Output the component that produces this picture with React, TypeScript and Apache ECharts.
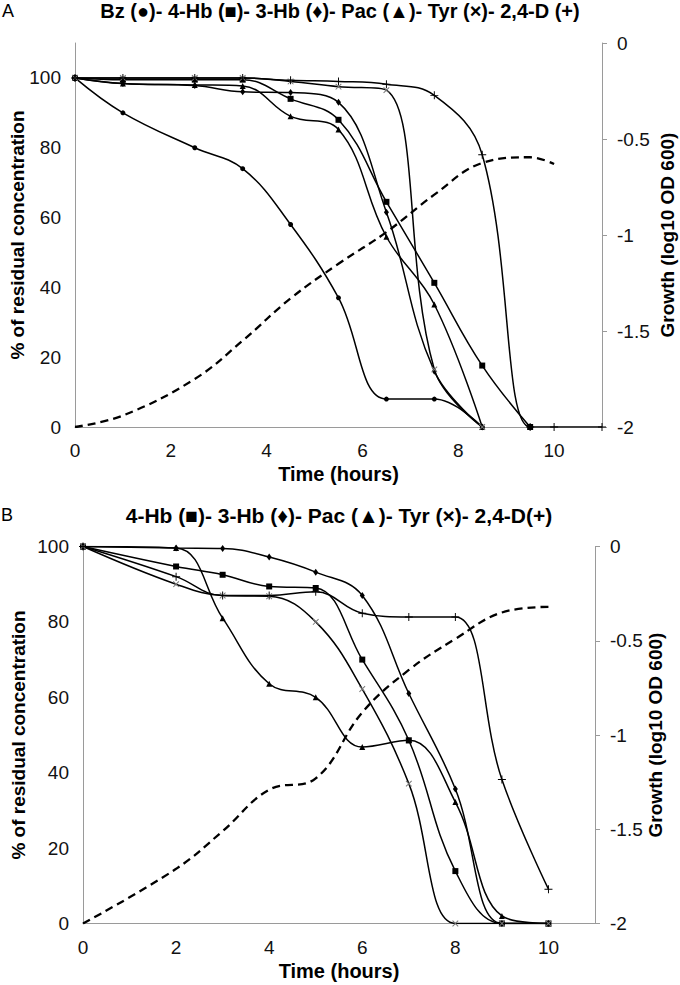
import React, { useEffect, useRef } from "react";
import * as echarts from "echarts";

// ---------- Panel A data ----------
const timeA = [0, 1, 2.5, 3.5, 4.5, 5.5, 6.5, 7.5, 8.5, 9.5, 10, 11];
const bzA = [100, 90, 80, 74, 58, 37, 8, 8, 0];
const hb4A = [100, 99.5, 99.5, 99.5, 94, 88, 64.5, 41.3, 17.6, 0];
const hb3A = [100, 98.4, 97.8, 96, 95.8, 93, 61.5, 16, 0];
const pacA = [100, 98.4, 98, 97.7, 89, 85.2, 54.5, 35.1, 0];
const tyrA = [100, 100, 100, 100, 99, 97.5, 96.5, 16.5, 0];
const d24A = [100, 100, 100, 100, 99.3, 99, 98.2, 95, 78, 0, 0, 0];
const growthTimeA = [0, 1, 2.5, 3.5, 4.5, 5.5, 6.5, 7.5, 8.5, 9.5, 10];
const growthA = [-2, -1.94, -1.75, -1.55, -1.33, -1.15, -0.985, -0.79, -0.625, -0.595, -0.63];

// ---------- Panel B data ----------
const timeB = [0, 2, 3, 4, 5, 6, 7, 8, 9, 10];
const hb4B = [100, 94.7, 92.5, 89.4, 89, 70, 48.6, 13.9, 0, 0];
const hb3B = [100, 99.6, 99.5, 97.2, 93.2, 87, 61, 35.7, 0, 0];
const pacB = [100, 99.6, 81, 63.6, 60, 46.8, 48.6, 32.2, 2, 0];
const tyrB = [100, 90, 87, 86.8, 80, 62.2, 37.1, 0, 0, 0];
const d24B = [100, 92, 87, 87, 88, 82.3, 81.3, 81.3, 38.2, 9.1];
const growthB = [-2, -1.71, -1.51, -1.29, -1.23, -0.88, -0.655, -0.49, -0.35, -0.32];

// ---------- Texts ----------
const titleA = "Bz (●)- 4-Hb (■)- 3-Hb (♦)- Pac (▲)- Tyr (×)- 2,4-D (+)";
const titleB = "4-Hb (■)- 3-Hb (♦)- Pac (▲)- Tyr (×)- 2,4-D(+)";
const xName = "Time (hours)";
const yLeftName = "% of residual concentration";
const yRightName = "Growth (log10 OD 600)";

const FONT = '"Liberation Sans", Arial, sans-serif';
const AXIS_GRAY = "#9a9a9a";
const LABEL_SIZE = 19;
const NAME_SIZE = 20;
const YNAME_SIZE = 19;

const PLUS = "path://M4.4,0H5.6V4.4H10V5.6H5.6V10H4.4V5.6H0V4.4H4.4Z";

const pairs = (xs: number[], ys: number[]) => ys.map((y, i) => [xs[i], y]);

function conc(
  name: string,
  xs: number[],
  ys: number[],
  gi: number,
  symbol: string,
  symbolSize: number | number[],
  color: string,
  rotate = 0
) {
  return {
    name,
    type: "line",
    xAxisIndex: gi,
    yAxisIndex: gi * 2,
    data: pairs(xs, ys),
    smooth: 0.4,
    symbol,
    symbolSize,
    symbolRotate: rotate,
    showAllSymbol: true,
    lineStyle: { color: "#000", width: 1.5 },
    itemStyle: { color },
    z: 3,
  };
}

function growth(xs: number[], ys: number[], gi: number) {
  return {
    type: "line",
    xAxisIndex: gi,
    yAxisIndex: gi * 2 + 1,
    data: pairs(xs, ys),
    smooth: 0.4,
    symbol: "none",
    lineStyle: { color: "#000", width: 2.3, type: [8, 5] },
    z: 2,
  };
}

function xAxis(gi: number) {
  return {
    type: "value",
    gridIndex: gi,
    min: 0,
    max: 11,
    interval: 2,
    name: xName,
    nameLocation: "middle",
    nameGap: 37,
    nameMoveOverlap: false,
    nameTextStyle: { fontFamily: FONT, fontWeight: "bold", fontSize: NAME_SIZE, color: "#000" },
    axisLine: { show: true, onZero: false, lineStyle: { color: AXIS_GRAY, width: 1 } },
    axisTick: { show: false },
    splitLine: { show: false },
    axisLabel: {
      fontFamily: FONT,
      fontSize: LABEL_SIZE,
      color: "#111",
      margin: 14,
      formatter: (v: number) => (v > 10 ? "" : String(v)),
    },
  };
}

function yLeft(gi: number, max: number, gap: number) {
  return {
    type: "value",
    gridIndex: gi,
    position: "left",
    min: 0,
    max,
    interval: 20,
    name: yLeftName,
    nameLocation: "middle",
    nameGap: gap,
    nameMoveOverlap: false,
    nameTextStyle: { fontFamily: FONT, fontWeight: "bold", fontSize: YNAME_SIZE, color: "#000" },
    axisLine: { show: true, onZero: false, lineStyle: { color: AXIS_GRAY, width: 1 } },
    axisTick: { show: false },
    splitLine: { show: false },
    axisLabel: {
      fontFamily: FONT,
      fontSize: LABEL_SIZE,
      color: "#111",
      margin: 14,
      formatter: (v: number) => (v > 100 ? "" : String(v)),
    },
  };
}

function yRight(gi: number, gap: number) {
  return {
    type: "value",
    gridIndex: gi,
    position: "right",
    min: -2,
    max: 0,
    interval: 0.5,
    name: yRightName,
    nameLocation: "middle",
    nameGap: gap,
    nameMoveOverlap: false,
    nameTextStyle: { fontFamily: FONT, fontWeight: "bold", fontSize: YNAME_SIZE, color: "#000" },
    axisLine: { show: true, onZero: false, lineStyle: { color: AXIS_GRAY, width: 1 } },
    axisTick: { show: true, inside: false, length: 5, lineStyle: { color: AXIS_GRAY, width: 1 } },
    splitLine: { show: false },
    axisLabel: { fontFamily: FONT, fontSize: LABEL_SIZE, color: "#111", margin: 15 },
  };
}

function textEl(text: string, x: number, y: number, align: string, bold: boolean, size: number) {
  return {
    type: "text",
    x,
    y,
    style: {
      text,
      fill: "#000",
      fontFamily: FONT,
      fontWeight: bold ? "bold" : "normal",
      fontSize: size,
      align,
      verticalAlign: "middle",
      textAlign: align,
      textVerticalAlign: "middle",
    },
  };
}

export default function App() {
  const ref = useRef<HTMLDivElement>(null);

  useEffect(() => {
    if (!ref.current) return;
    const chart = echarts.init(ref.current, undefined, { renderer: "svg" });
    const option = {
      animation: false,
      backgroundColor: "#fff",
      grid: [
        { left: 75, top: 43, width: 527, height: 384, outerBoundsMode: "none", containLabel: false },
        { left: 83, top: 546.5, width: 512, height: 377, outerBoundsMode: "none", containLabel: false },
      ],
      xAxis: [xAxis(0), xAxis(1)],
      yAxis: [yLeft(0, 110, 48), yRight(0, 56), yLeft(1, 100, 55), yRight(1, 51)],
      graphic: [
        textEl("A", 2, 11, "left", false, 18),
        textEl(titleA, 340, 11, "center", true, 20),
        textEl("B", 1, 515, "left", false, 18),
        textEl(titleB, 339, 515, "center", true, 21),
      ],
      series: [
        growth(growthTimeA, growthA, 0),
        conc("Bz", timeA, bzA, 0, "circle", 5, "#000"),
        conc("4-Hb", timeA, hb4A, 0, "rect", 6, "#000"),
        conc("3-Hb", timeA, hb3A, 0, "diamond", [5, 7], "#000"),
        conc("Pac", timeA, pacA, 0, "triangle", 6, "#000"),
        conc("Tyr", timeA, tyrA, 0, PLUS, 8, "#777", 45),
        conc("2,4-D", timeA, d24A, 0, PLUS, 8, "#000"),
        growth(timeB, growthB, 1),
        conc("4-Hb B", timeB, hb4B, 1, "rect", 6, "#000"),
        conc("3-Hb B", timeB, hb3B, 1, "diamond", [5, 7], "#000"),
        conc("Pac B", timeB, pacB, 1, "triangle", 6, "#000"),
        conc("Tyr B", timeB, tyrB, 1, PLUS, 8, "#777", 45),
        conc("2,4-D B", timeB, d24B, 1, PLUS, 8, "#000"),
      ],
    };
    chart.setOption(option as any);
    return () => chart.dispose();
  }, []);

  return (
    <div
      ref={ref}
      style={{ position: "absolute", left: 0, top: 0, width: 680, height: 985, background: "#fff" }}
    />
  );
}
